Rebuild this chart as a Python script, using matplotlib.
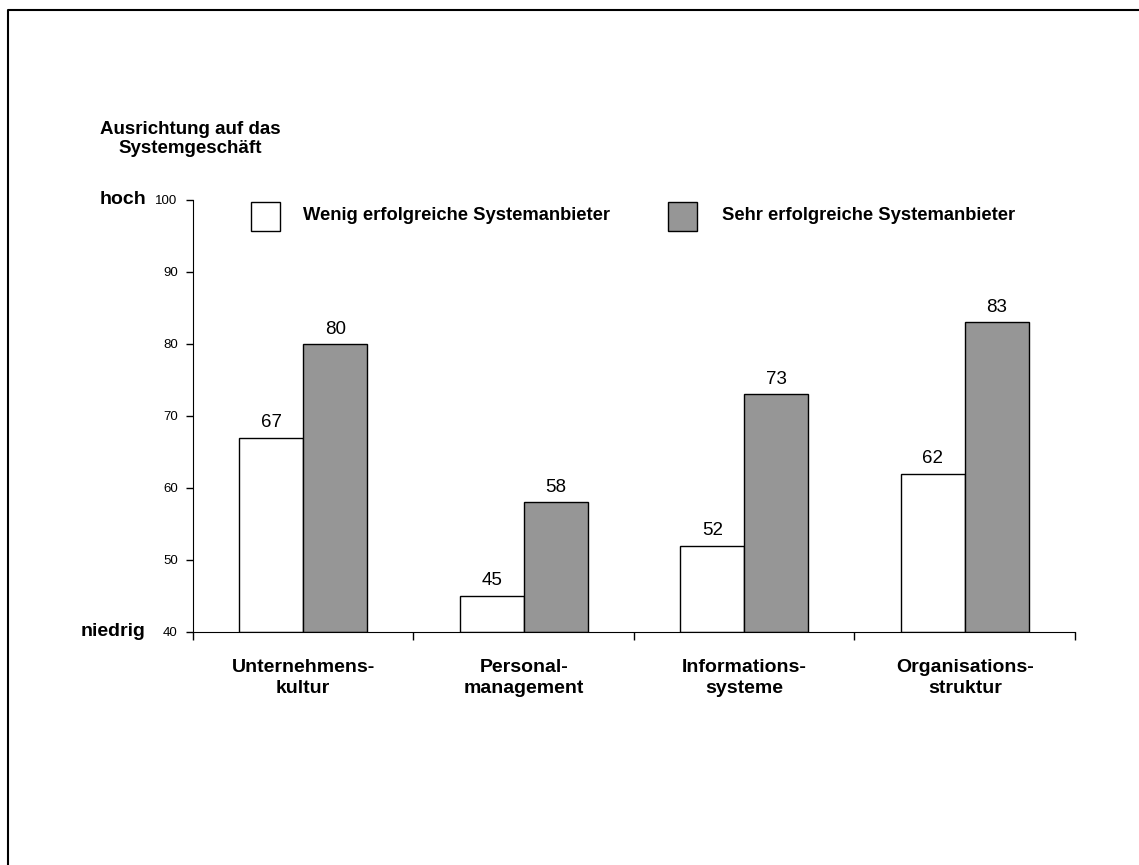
import matplotlib.pyplot as plt
from matplotlib.patches import Rectangle

plt.rcParams['font.family'] = ['Liberation Sans', 'DejaVu Sans']

categories = ['Unternehmens-\nkultur', 'Personal-\nmanagement',
              'Informations-\nsysteme', 'Organisations-\nstruktur']
wenig = [67, 45, 52, 62]
sehr = [80, 58, 73, 83]
series_names = ['Wenig erfolgreiche Systemanbieter', 'Sehr erfolgreiche Systemanbieter']
grey = '#969696'

fig = plt.figure(figsize=(11.39, 8.65), dpi=100)
ax = fig.add_axes([0.1694, 0.2694, 0.7744, 0.4994])

w = 0.29
x = list(range(len(categories)))
ax.bar([i - w / 2 for i in x], [v - 40 for v in wenig], w, bottom=40,
       color='white', edgecolor='black', linewidth=1)
ax.bar([i + w / 2 for i in x], [v - 40 for v in sehr], w, bottom=40,
       color=grey, edgecolor='black', linewidth=1)

for i in x:
    ax.text(i - w / 2, wenig[i] + 0.9, str(wenig[i]), ha='center', va='bottom', fontsize=13.5)
    ax.text(i + w / 2, sehr[i] + 0.9, str(sehr[i]), ha='center', va='bottom', fontsize=13.5)

ax.set_xlim(-0.5, len(categories) - 0.5)
ax.set_ylim(40, 100)
ax.set_yticks(range(40, 101, 10))
ax.tick_params(axis='y', labelsize=9.5, length=5, width=1, pad=6)

# ticks between the groups, labels centered under each group
ax.set_xticks([i - 0.5 for i in range(len(categories) + 1)])
ax.set_xticklabels([])
ax.tick_params(axis='x', length=6, width=1)
for i, c in enumerate(categories):
    ax.text(i, 36.3, c, ha='center', va='top', fontsize=14, fontweight='bold',
            linespacing=1.3)

for s in ['top', 'right']:
    ax.spines[s].set_visible(False)

# y-axis annotations
fig.text(190 / 1139, 1 - 139 / 865, 'Ausrichtung auf das\nSystemgeschäft', ha='center', va='center',
         fontsize=13.5, fontweight='bold', linespacing=1.2)
fig.text(146 / 1139, 1 - 200 / 865, 'hoch', ha='right', va='center', fontsize=14, fontweight='bold')
fig.text(146 / 1139, 1 - 632 / 865, 'niedrig', ha='right', va='center', fontsize=14, fontweight='bold')

# legend with square swatches
for (px, tx), fc, name in zip([(251, 303), (668, 722)], ['white', grey], series_names):
    fig.patches.append(Rectangle((px / 1139, 1 - 231 / 865), 29 / 1139, 29 / 865,
                                 transform=fig.transFigure, facecolor=fc,
                                 edgecolor='black', linewidth=1))
    fig.text(tx / 1139, 1 - 216 / 865, name, ha='left', va='center',
             fontsize=13.2, fontweight='bold')

# frame around the chart area
fig.lines.append(plt.Line2D([8 / 1139, 8 / 1139, 1.0], [0.0, 1 - 10 / 865, 1 - 10 / 865],
                            transform=fig.transFigure, color='black', linewidth=1.5))

fig.savefig('out.png', dpi=100, facecolor='white')
